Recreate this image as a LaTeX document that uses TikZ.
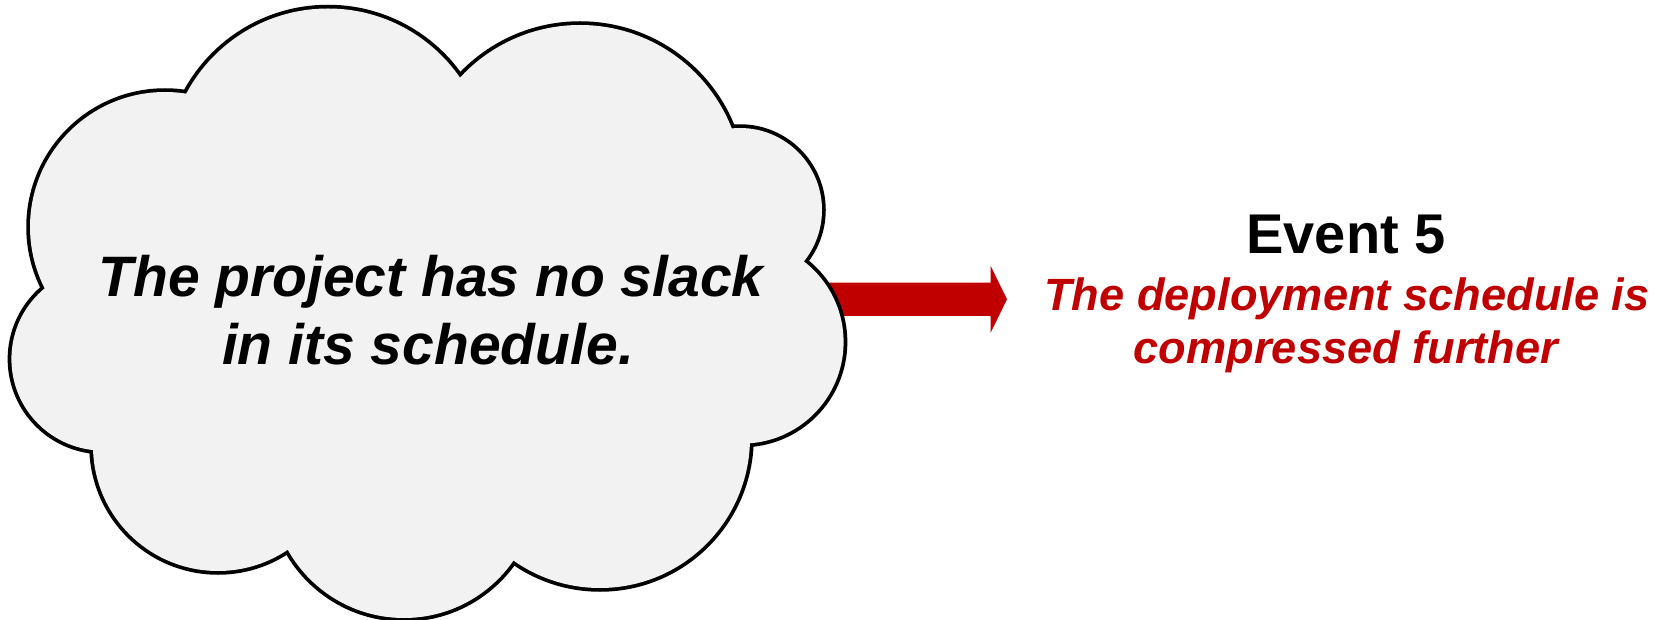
\documentclass[tikz,border=0pt]{standalone}
\usepackage{fontspec}
\setmainfont{Liberation Sans}
\usetikzlibrary{calc}
\definecolor{cloudgray}{HTML}{F2F2F2}
\definecolor{eventred}{HTML}{C00000}
\tikzset{
  cloudline/.style={draw=black, line width=7.5pt},
  cloudfill/.style={fill=cloudgray},
  cloudtext/.style={inner sep=0pt, anchor=base, font=\fontsize{57}{68}\selectfont\bfseries\itshape},
  eventtitle/.style={inner sep=0pt, anchor=base, font=\fontsize{56}{64}\selectfont\bfseries},
  eventtext/.style={inner sep=0pt, anchor=base, text=eventred, font=\fontsize{45.2}{53}\selectfont\bfseries\itshape},
  blockarrow/.style={fill=eventred}
}
\begin{document}
\begin{tikzpicture}[x=1pt,y=-1pt]
\useasboundingbox (0,0) rectangle (1661,620);
% arrow (behind the cloud)
\coordinate (arrowstart) at (790,299.3);
\coordinate (arrowtip) at (1007,299.3);
\fill[blockarrow] ($(arrowstart)+(0,-16.6)$) -- (990.7,282.7) -- (990.7,266) -- (arrowtip)
  -- (990.7,332.6) -- (990.7,316) -- ($(arrowstart)+(0,16.6)$) -- cycle;
% cloud outline: union of circles
\foreach \cx/\cy/\r in {165/227/135, 328/169/160.5, 580/188/163, 740/210/82, 742/342/101.6,
  600/438/150, 404/485/133, 218/446/125, 103/359/91.6}{
  \path[cloudline] (\cx,\cy) circle[radius=\r pt];
}
\fill[cloudfill] (165,227) -- (328,169) -- (580,188) -- (740,210) -- (742,342) -- (600,438)
  -- (404,485) -- (218,446) -- (103,359) -- cycle;
\foreach \cx/\cy/\r in {165/227/135, 328/169/160.5, 580/188/163, 740/210/82, 742/342/101.6,
  600/438/150, 404/485/133, 218/446/125, 103/359/91.6}{
  \path[cloudfill] (\cx,\cy) circle[radius=\r pt];
}
\node[cloudtext] (cloudA) at (431,296) {The project has no slack};
\node[cloudtext] (cloudB) at (428,364) {in its schedule.};
\node[eventtitle] (event) at (1346,254) {Event 5};
\node[eventtext] (descA) at (1347,310) {The deployment schedule is};
\node[eventtext] (descB) at (1346,363.3) {compressed further};
\end{tikzpicture}
\end{document}
